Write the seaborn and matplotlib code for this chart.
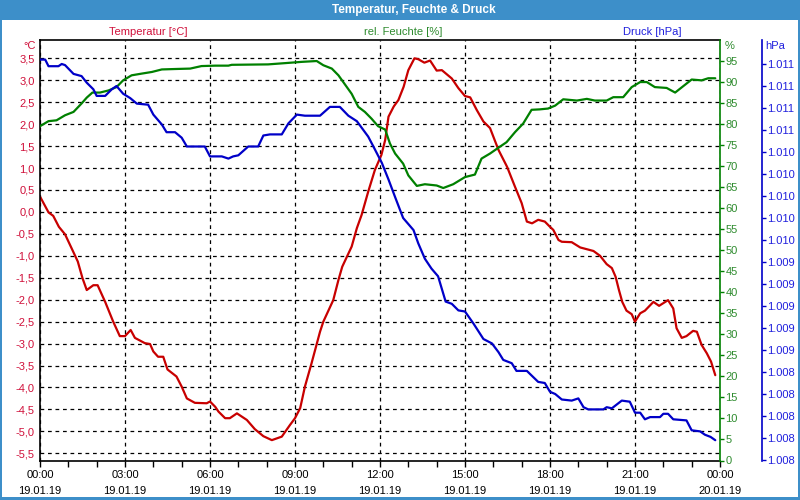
import matplotlib
matplotlib.use("Agg")
import matplotlib.pyplot as plt
import matplotlib.dates as mdates
from matplotlib.patches import Rectangle
from matplotlib.ticker import FixedLocator, FuncFormatter
import numpy as np
import pandas as pd
import seaborn as sns

# ---------------- data ----------------
DAY = "2019-01-19"

temp_times = ["00:00", "00:18", "00:28", "00:40", "00:53", "01:07", "01:20", "01:30", "01:39", "01:53",
              "02:02", "02:18", "02:35", "02:49", "03:00", "03:12", "03:21", "03:42", "03:53", "04:00",
              "04:10", "04:21", "04:30", "04:49", "05:00", "05:11", "05:28", "05:53", "06:00", "06:11",
              "06:18", "06:32", "06:42", "06:57", "07:18", "07:35", "07:53", "08:11", "08:32", "08:49",
              "09:00", "09:11", "09:21", "09:35", "09:53", "10:00", "10:21", "10:32", "10:40", "10:50",
              "11:00", "11:11", "11:21", "11:35", "11:49", "12:03", "12:11", "12:18", "12:29", "12:39",
              "12:50", "13:00", "13:13", "13:21", "13:34", "13:46", "14:00", "14:11", "14:32", "14:46",
              "15:00", "15:11", "15:25", "15:39", "15:53", "16:11", "16:29", "16:46", "17:00", "17:11",
              "17:22", "17:35", "17:49", "18:00", "18:07", "18:18", "18:25", "18:46", "19:04", "19:18",
              "19:32", "19:46", "20:00", "20:11", "20:19", "20:26", "20:33", "20:42", "20:53", "21:00",
              "21:11", "21:21", "21:39", "21:51", "22:10", "22:21", "22:28", "22:39", "22:49", "23:03",
              "23:11", "23:21", "23:32", "23:41", "23:50"]
temp_values = [0.35, -0.01, -0.09, -0.34, -0.51, -0.83, -1.13, -1.51, -1.78, -1.67,
               -1.67, -2.05, -2.50, -2.83, -2.83, -2.69, -2.87, -2.99, -3.01, -3.18,
               -3.30, -3.30, -3.59, -3.75, -3.98, -4.25, -4.35, -4.36, -4.32, -4.44,
               -4.55, -4.70, -4.70, -4.59, -4.74, -4.95, -5.11, -5.20, -5.12, -4.86,
               -4.70, -4.47, -3.98, -3.45, -2.73, -2.50, -2.01, -1.55, -1.25, -1.02,
               -0.79, -0.37, -0.07, 0.46, 0.95, 1.30, 1.64, 2.17, 2.40, 2.55,
               2.85, 3.23, 3.50, 3.48, 3.40, 3.45, 3.22, 3.23, 3.04, 2.82,
               2.64, 2.61, 2.32, 2.06, 1.91, 1.41, 1.03, 0.57, 0.20, -0.22,
               -0.26, -0.18, -0.22, -0.34, -0.41, -0.64, -0.68, -0.69, -0.81, -0.85,
               -0.89, -1.00, -1.19, -1.28, -1.48, -1.78, -2.05, -2.25, -2.33, -2.50,
               -2.31, -2.25, -2.05, -2.14, -2.01, -2.20, -2.65, -2.87, -2.83, -2.71,
               -2.73, -3.03, -3.22, -3.41, -3.72]

hum_times = ["00:00", "00:18", "00:35", "00:53", "01:11", "01:28", "01:39", "01:51", "02:07", "02:25",
             "02:42", "02:56", "03:14", "03:35", "03:57", "04:18", "04:46", "05:18", "05:42", "06:11",
             "06:39", "06:46", "08:03", "08:39", "09:14", "09:46", "10:00", "10:18", "10:32", "10:46",
             "11:00", "11:14", "11:28", "11:42", "11:56", "12:11", "12:21", "12:32", "12:49", "13:00",
             "13:18", "13:35", "14:00", "14:14", "14:35", "15:00", "15:21", "15:35", "15:53", "16:11",
             "16:28", "16:46", "17:03", "17:21", "17:38", "17:56", "18:11", "18:28", "18:57", "19:18",
             "19:35", "20:00", "20:14", "20:35", "20:53", "21:11", "21:25", "21:42", "22:07", "22:25",
             "23:00", "23:21", "23:35", "23:50"]
hum_values = [79.5, 80.7, 80.9, 82.1, 82.9, 84.9, 86.3, 87.5, 87.5, 88.0,
              88.8, 90.4, 91.6, 92.0, 92.4, 93.0, 93.1, 93.2, 93.8, 93.9,
              93.9, 94.1, 94.2, 94.5, 94.8, 95.0, 94.0, 93.2, 91.6, 89.4,
              87.2, 84.1, 82.9, 81.3, 79.5, 78.7, 75.4, 73.0, 70.6, 67.8,
              65.3, 65.7, 65.4, 64.8, 65.7, 67.4, 68.0, 71.8, 73.0, 74.4,
              75.7, 78.1, 80.1, 83.4, 83.5, 83.7, 84.4, 85.9, 85.6, 86.0,
              85.6, 85.6, 86.4, 86.4, 88.8, 90.0, 90.0, 88.8, 88.6, 87.5,
              90.6, 90.4, 90.9, 90.9]

pres_times = ["00:00", "00:11", "00:18", "00:39", "00:46", "00:53", "01:11", "01:28", "01:39", "01:53",
              "02:00", "02:18", "02:32", "02:42", "02:56", "03:11", "03:25", "03:49", "04:00", "04:18",
              "04:28", "04:46", "05:00", "05:11", "05:42", "05:49", "06:00", "06:25", "06:39", "06:49",
              "07:00", "07:21", "07:42", "07:53", "08:07", "08:32", "08:46", "09:04", "09:21", "09:53",
              "10:14", "10:35", "10:53", "11:11", "11:35", "11:46", "12:04", "12:18", "12:32", "12:49",
              "13:11", "13:21", "13:35", "13:49", "14:03", "14:19", "14:32", "14:46", "15:00", "15:18",
              "15:39", "15:57", "16:11", "16:21", "16:39", "16:49", "17:11", "17:35", "17:49", "18:00",
              "18:11", "18:25", "18:46", "19:00", "19:11", "19:21", "19:53", "20:00", "20:11", "20:32",
              "20:49", "21:00", "21:11", "21:21", "21:32", "21:53", "22:00", "22:10", "22:21", "22:49",
              "23:00", "23:18", "23:28", "23:40", "23:50"]
pres_values = [1011.24, 1011.24, 1011.18, 1011.18, 1011.20, 1011.19, 1011.11, 1011.09, 1011.03, 1010.97,
               1010.91, 1010.91, 1010.97, 1011.00, 1010.93, 1010.89, 1010.84, 1010.83, 1010.74, 1010.65,
               1010.58, 1010.58, 1010.53, 1010.45, 1010.45, 1010.45, 1010.36, 1010.36, 1010.34, 1010.36,
               1010.37, 1010.45, 1010.45, 1010.55, 1010.56, 1010.56, 1010.66, 1010.74, 1010.73, 1010.73,
               1010.81, 1010.81, 1010.73, 1010.68, 1010.54, 1010.45, 1010.30, 1010.15, 1009.99, 1009.80,
               1009.69, 1009.57, 1009.43, 1009.34, 1009.27, 1009.04, 1009.02, 1008.96, 1008.95, 1008.84,
               1008.70, 1008.66, 1008.58, 1008.51, 1008.48, 1008.41, 1008.41, 1008.31, 1008.30, 1008.22,
               1008.20, 1008.15, 1008.14, 1008.16, 1008.08, 1008.06, 1008.06, 1008.08, 1008.07, 1008.14,
               1008.13, 1008.03, 1008.03, 1007.97, 1007.99, 1007.99, 1008.02, 1008.02, 1007.97, 1007.96,
               1007.87, 1007.86, 1007.83, 1007.81, 1007.78]

temp_ticks = [-5.5, -5.0, -4.5, -4.0, -3.5, -3.0, -2.5, -2.0, -1.5, -1.0, -0.5,
              0.0, 0.5, 1.0, 1.5, 2.0, 2.5, 3.0, 3.5]
hum_ticks = [0, 5, 10, 15, 20, 25, 30, 35, 40, 45, 50, 55, 60, 65, 70, 75, 80, 85, 90, 95]
pres_ticks = [1007.6, 1007.8, 1008.0, 1008.2, 1008.4, 1008.6, 1008.8, 1009.0, 1009.2, 1009.4,
              1009.6, 1009.8, 1010.0, 1010.2, 1010.4, 1010.6, 1010.8, 1011.0, 1011.2]

x_tick_times = ["2019-01-19 00:00", "2019-01-19 03:00", "2019-01-19 06:00", "2019-01-19 09:00",
                "2019-01-19 12:00", "2019-01-19 15:00", "2019-01-19 18:00", "2019-01-19 21:00",
                "2019-01-20 00:00"]

title_text = "Temperatur, Feuchte & Druck"
temp_label = "Temperatur [°C]"
hum_label = "rel. Feuchte [%]"
pres_label = "Druck [hPa]"

# ---------------- styling ----------------
sns.set_theme(style="white")
plt.rcParams["font.family"] = ["Liberation Sans", "DejaVu Sans"]

RED_LINE = "#c80000"
RED_TXT = "#d0103a"
GREEN_LINE = "#008000"
GREEN_TXT = "#2e8b2e"
BLUE_LINE = "#0000c8"
BLUE_TXT = "#2020dd"
FRAME_BLUE = "#3d8fc9"

W, H = 800, 500
fig = plt.figure(figsize=(8, 5), dpi=100)
fig.patch.set_facecolor("white")

left, right, top, bottom = 40, 720, 40, 460.5
ax = fig.add_axes([left / W, 1 - bottom / H, (right - left) / W, (bottom - top) / H])
ax.set_facecolor("white")
ax2 = ax.twinx()
ax3 = ax.twinx()

def to_dt(times):
    return pd.to_datetime([f"{DAY} {t}" for t in times])

sns.lineplot(x=to_dt(temp_times), y=temp_values, ax=ax, color=RED_LINE, linewidth=1.6,
             estimator=None, legend=False)
sns.lineplot(x=to_dt(hum_times), y=hum_values, ax=ax2, color=GREEN_LINE, linewidth=1.6,
             estimator=None, legend=False)
sns.lineplot(x=to_dt(pres_times), y=pres_values, ax=ax3, color=BLUE_LINE, linewidth=1.6,
             estimator=None, legend=False)

for a in (ax, ax2, ax3):
    a.set_xlabel("")
    a.set_ylabel("")

# x axis
xt = pd.to_datetime(x_tick_times)
ax.set_xlim(xt[0], xt[-1])
ax.set_xticks(xt)
ax.set_xticklabels([d.strftime("%H:%M") + "\n" + d.strftime("%d.%m.%y") for d in xt],
                   linespacing=1.85)
ax.xaxis.set_minor_locator(mdates.HourLocator())
ax.tick_params(axis="x", which="both", direction="out", length=4, width=1, color="black",
               labelsize=8, labelcolor="black", pad=2.5, bottom=True)

# temperature axis
ax.set_ylim(-5.664, 3.917)
ax.yaxis.set_major_locator(FixedLocator(temp_ticks))
ax.yaxis.set_major_formatter(FuncFormatter(lambda v, p: f"{v:.1f}".replace(".", ",")))
ax.tick_params(axis="y", length=0, pad=4, labelsize=8, labelcolor=RED_TXT, left=True)

dash = (0, (3, 3))
ax.grid(True, axis="both", which="major", color="black", linestyle=dash, linewidth=0.9)

for s in ("left", "bottom", "top"):
    ax.spines[s].set_visible(True)
    ax.spines[s].set_color("black")
    ax.spines[s].set_linewidth(1.2)
ax.spines["right"].set_visible(False)

# humidity axis
ax2.set_ylim(0, 100)
ax2.yaxis.set_major_locator(FixedLocator(hum_ticks))
ax2.yaxis.set_major_formatter(FuncFormatter(lambda v, p: f"{v:.0f}"))
ax2.tick_params(axis="y", right=True, length=3, width=1, color=GREEN_LINE, pad=1,
                labelsize=8, labelcolor=GREEN_TXT, direction="out")
for s in ("left", "bottom", "top"):
    ax2.spines[s].set_visible(False)
ax2.spines["right"].set_visible(True)
ax2.spines["right"].set_color(GREEN_LINE)
ax2.spines["right"].set_linewidth(1.2)
ax2.grid(False)

# pressure axis
ax3.spines["right"].set_position(("axes", 1 + 42 / (right - left)))
ax3.set_ylim(1007.6 - 0.5 / 110, 1007.6 + 420 / 110)
ax3.yaxis.set_major_locator(FixedLocator(pres_ticks))
ax3.yaxis.set_major_formatter(
    FuncFormatter(lambda v, p: f"{int(round(v)):,}".replace(",", ".")))
ax3.tick_params(axis="y", right=True, length=3, width=1, color=BLUE_LINE, pad=1,
                labelsize=8, labelcolor=BLUE_TXT, direction="out")
for s in ("left", "bottom", "top"):
    ax3.spines[s].set_visible(False)
ax3.spines["right"].set_visible(True)
ax3.spines["right"].set_color(BLUE_LINE)
ax3.spines["right"].set_linewidth(1.2)
ax3.grid(False)

# unit labels & headers
fig.text(36 / W, 1 - 46 / H, "°C", color=RED_TXT, fontsize=8, ha="right", va="center")
fig.text(725 / W, 1 - 46 / H, "%", color=GREEN_TXT, fontsize=8, ha="left", va="center")
fig.text(765 / W, 1 - 46 / H, "hPa", color=BLUE_TXT, fontsize=8, ha="left", va="center")
fig.text(148 / W, 1 - 32 / H, temp_label, color=RED_TXT, fontsize=8, ha="center", va="center")
fig.text(403 / W, 1 - 32 / H, hum_label, color=GREEN_TXT, fontsize=8, ha="center", va="center")
fig.text(652 / W, 1 - 32 / H, pres_label, color=BLUE_TXT, fontsize=8, ha="center", va="center")

# window frame and title bar
fig.add_artist(Rectangle((0, 1 - 20 / H), 1, 20 / H, transform=fig.transFigure,
                         facecolor=FRAME_BLUE, edgecolor="none", zorder=0))
fig.add_artist(Rectangle((0, 0), 2 / W, 1, transform=fig.transFigure,
                         facecolor=FRAME_BLUE, edgecolor="none", zorder=0))
fig.add_artist(Rectangle((1 - 2 / W, 0), 2 / W, 1, transform=fig.transFigure,
                         facecolor=FRAME_BLUE, edgecolor="none", zorder=0))
fig.add_artist(Rectangle((0, 0), 1, 3 / H, transform=fig.transFigure,
                         facecolor=FRAME_BLUE, edgecolor="none", zorder=0))
fig.text(414 / W, 1 - 10 / H, title_text, color="white", fontsize=8.5, fontweight="bold",
         ha="center", va="center")

fig.savefig("out.png", dpi=100, facecolor="white")
